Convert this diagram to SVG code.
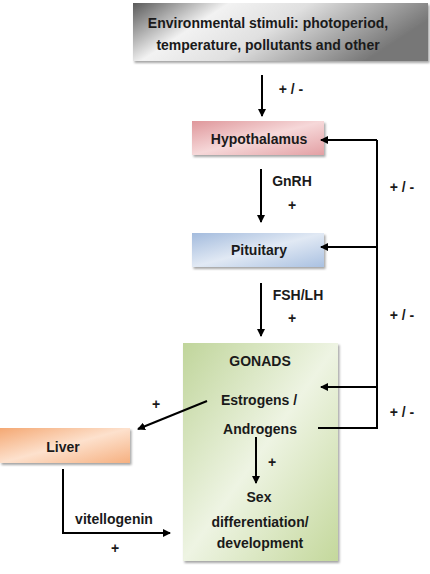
<svg xmlns="http://www.w3.org/2000/svg" width="430" height="574" viewBox="0 0 430 574">
<defs>
<linearGradient id="gGray" x1="0" y1="0" x2="1" y2="0.3">
<stop offset="0" stop-color="#5a5a5a"/><stop offset="0.3" stop-color="#f2f2f2"/><stop offset="0.55" stop-color="#e0e0e0"/><stop offset="1" stop-color="#777"/>
</linearGradient>
<linearGradient id="gPink" x1="0" y1="0" x2="1" y2="1">
<stop offset="0" stop-color="#df979b"/><stop offset="0.5" stop-color="#f6d8d9"/><stop offset="1" stop-color="#e3a0a4"/>
</linearGradient>
<linearGradient id="gBlue" x1="0" y1="0" x2="1" y2="1">
<stop offset="0" stop-color="#a3bbdd"/><stop offset="0.5" stop-color="#e1e9f4"/><stop offset="1" stop-color="#aac1e1"/>
</linearGradient>
<linearGradient id="gGreen" x1="0" y1="0" x2="1" y2="1">
<stop offset="0" stop-color="#c0d59b"/><stop offset="0.5" stop-color="#eef4e3"/><stop offset="1" stop-color="#c4d89c"/>
</linearGradient>
<linearGradient id="gOrange" x1="0" y1="0" x2="1" y2="1">
<stop offset="0" stop-color="#f4a873"/><stop offset="0.5" stop-color="#fde1cd"/><stop offset="1" stop-color="#f6b080"/>
</linearGradient>
<filter id="sh" x="-10%" y="-10%" width="130%" height="140%">
<feDropShadow dx="1.5" dy="2" stdDeviation="1.2" flood-color="#000" flood-opacity="0.35"/>
</filter>
<marker id="ah" markerWidth="8" markerHeight="8" refX="7" refY="4" orient="auto" markerUnits="userSpaceOnUse">
<path d="M0,0 L8,4 L0,8 z" fill="#000"/>
</marker>
</defs>
<style>
text{font-family:"Liberation Sans",Arial,sans-serif;font-weight:bold;font-size:14px;fill:#1a1a1a;text-anchor:middle;dominant-baseline:central}
.c{fill:none;stroke:#000;stroke-width:2}
.a{fill:none;stroke:#000;stroke-width:2;marker-end:url(#ah)}
</style>
<g id="stimuli">
<rect x="133" y="3" width="295" height="58" fill="url(#gGray)" filter="url(#sh)"/>
<text x="268" y="23">Environmental stimuli: photoperiod,</text>
<text x="268" y="45">temperature, pollutants and other</text>
</g>
<g id="hypothalamus">
<rect x="192" y="121" width="132" height="34" fill="url(#gPink)" filter="url(#sh)"/>
<text x="259" y="139">Hypothalamus</text>
</g>
<g id="pituitary">
<rect x="192" y="233" width="132" height="34" fill="url(#gBlue)" filter="url(#sh)"/>
<text x="259" y="250">Pituitary</text>
</g>
<g id="gonads">
<rect x="183" y="343" width="155" height="218" fill="url(#gGreen)" filter="url(#sh)"/>
<text x="260" y="361">GONADS</text>
<text x="259" y="400">Estrogens /</text>
<text x="260" y="429">Androgens</text>
<text x="259" y="497">Sex</text>
<text x="260" y="522">differentiation/</text>
<text x="260" y="543">development</text>
</g>
<g id="liver">
<rect x="0" y="428" width="130" height="35" fill="url(#gOrange)" filter="url(#sh)"/>
<text x="63" y="447">Liver</text>
</g>
<g id="connectors">
<path class="a" d="M262,75 V116"/>
<path class="a" d="M261,169 V222"/>
<path class="a" d="M261,283 V336"/>
<path class="c" d="M318,428 H377 V140"/>
<path class="a" d="M377,140 H321"/>
<path class="a" d="M377,247 H321"/>
<path class="a" d="M377,387 H321"/>
<path class="a" d="M207,401 L138,429"/>
<path class="a" d="M256,437 V483"/>
<path class="a" d="M63,469 V533 H170"/>
</g>
<g id="labels">
<text x="291" y="89">+ / -</text>
<text x="292" y="181">GnRH</text>
<text x="292" y="205">+</text>
<text x="402" y="187">+ / -</text>
<text x="298" y="295">FSH/LH</text>
<text x="292" y="318">+</text>
<text x="402" y="315">+ / -</text>
<text x="402" y="412">+ / -</text>
<text x="156" y="404">+</text>
<text x="272" y="462">+</text>
<text x="114" y="519">vitellogenin</text>
<text x="115" y="548">+</text>
</g>
</svg>
